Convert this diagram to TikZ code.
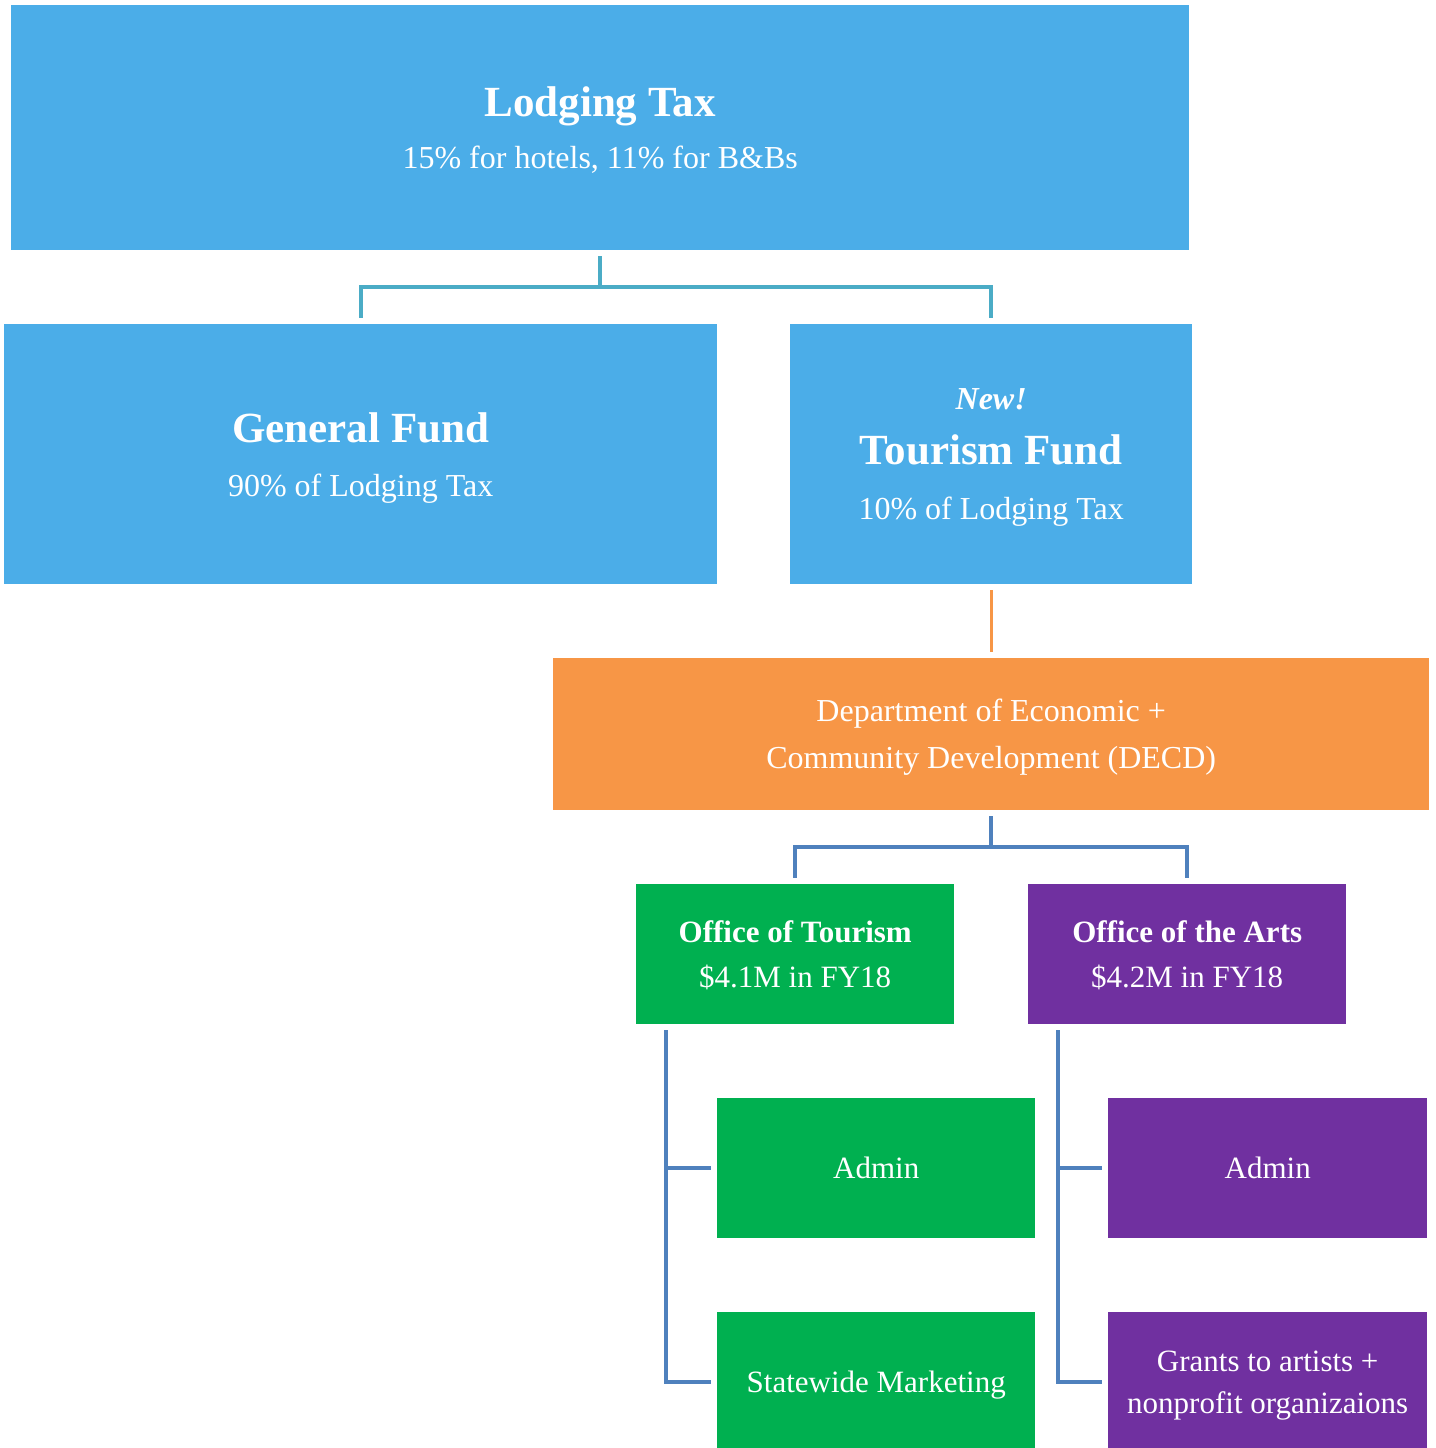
\documentclass[tikz,border=0pt]{standalone}
\usepackage{fontspec}
\setmainfont{Liberation Serif}
\usetikzlibrary{positioning}
\definecolor{fundblue}{HTML}{4BADE8}
\definecolor{linkteal}{HTML}{4BACC6}
\definecolor{decdorange}{HTML}{F79646}
\definecolor{linkblue}{HTML}{4F81BD}
\definecolor{tourgreen}{HTML}{00B050}
\definecolor{artpurple}{HTML}{7030A0}
\newcommand{\bigtitle}{\fontsize{43}{43}\selectfont\bfseries}

\begin{document}
\begin{tikzpicture}
      [x=1pt,y=-1pt,
        box/.style={anchor=north west,inner sep=0pt,text depth=0pt,text=white,align=center},
        fund/.style={box,fill=fundblue,font=\fontsize{32}{54}\selectfont},
        decdbox/.style={box,fill=decdorange,font=\fontsize{32}{47}\selectfont},
        tourbox/.style={box,fill=tourgreen,minimum width=318pt,minimum height=140pt,font=\fontsize{31}{45}\selectfont},
        artbox/.style={box,fill=artpurple,minimum width=319pt,minimum height=140pt,font=\fontsize{31}{42}\selectfont},
        tealline/.style={draw=linkteal,line width=4pt,shorten <=6pt,shorten >=6pt},
        orangeline/.style={draw=decdorange,line width=3pt,shorten <=6pt,shorten >=6pt},
        blueline/.style={draw=linkblue,line width=4pt,shorten <=6pt,shorten >=6pt}]
      \useasboundingbox (0,0) rectangle (1435,1448);
      % funds
      \node[fund,minimum width=1178pt,minimum height=245pt,font=\fontsize{32}{52}\selectfont] (lodging) at (11,5)
        {{\bigtitle Lodging Tax}\\15\% for hotels, 11\% for B\&Bs};
      \node[fund,minimum width=713pt,minimum height=260pt] (general) at (4,324)
        {{\bigtitle General Fund}\\90\% of Lodging Tax};
      \node[fund,minimum width=402pt,minimum height=260pt,font=\fontsize{32}{55}\selectfont] (tourism) at (790,324)
        {{\bfseries\itshape New!}\\{\bigtitle Tourism Fund}\\10\% of Lodging Tax};
      \draw[tealline] (lodging.south) -- ++(0,37) -| (general.north);
      \draw[tealline] (lodging.south) -- ++(0,37) -| (tourism.north);
      % department
      \node[decdbox,minimum width=876pt,minimum height=152pt] (decd) at (553,658)
        {Department of Economic +\\Community Development (DECD)};
      \draw[orangeline] (tourism.south) -- (decd.north);
      % offices
      \node[tourbox] (otourism) at (636,884)
        {{\bfseries Office of Tourism}\\\$4.1M in FY18};
      \node[artbox,minimum width=318pt,font=\fontsize{31}{45}\selectfont] (oarts) at (1028,884)
        {{\bfseries Office of the Arts}\\\$4.2M in FY18};
      \draw[blueline] (decd.south) -- ++(0,37) -| (otourism.north);
      \draw[blueline] (decd.south) -- ++(0,37) -| (oarts.north);
      % programmes
      \node[tourbox] (tadmin) at (717,1098) {Admin};
      \node[tourbox] (tmarketing) at (717,1312) {Statewide Marketing};
      \node[artbox] (aadmin) at (1108,1098) {Admin};
      \node[artbox] (agrants) at (1108,1312)
        {Grants to artists +\\nonprofit organizaions};
      \draw[blueline] ([xshift=30pt]otourism.south west) |- (tadmin.west);
      \draw[blueline] ([xshift=30pt]otourism.south west) |- (tmarketing.west);
      \draw[blueline] ([xshift=30pt]oarts.south west) |- (aadmin.west);
      \draw[blueline] ([xshift=30pt]oarts.south west) |- (agrants.west);
    \end{tikzpicture}
\end{document}
